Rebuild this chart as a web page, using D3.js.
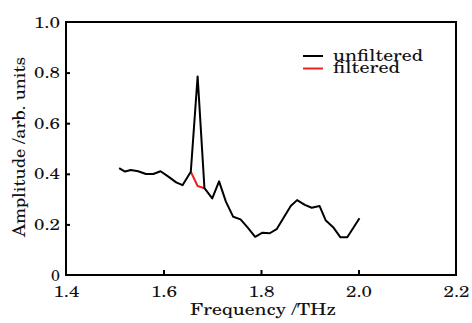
<!DOCTYPE html>
<html><head><meta charset="utf-8">
<script src="https://cdn.jsdelivr.net/npm/d3@7"></script>
<style>
html,body{margin:0;padding:0;background:#fff;}
svg text{font-family:"TeX Gyre Schola","Liberation Serif",serif;fill:#111;}
</style></head>
<body><svg id="c" width="472" height="323"></svg>
<script>
const freq = [1.509,1.521,1.533,1.548,1.564,1.579,1.594,1.610,1.626,1.639,1.656,1.670,1.684,1.700,1.714,1.728,1.743,1.758,1.772,1.788,1.803,1.818,1.832,1.847,1.861,1.874,1.890,1.904,1.920,1.933,1.948,1.963,1.977,2.002];
const unfiltered = [0.422,0.409,0.415,0.410,0.399,0.399,0.410,0.389,0.366,0.355,0.408,0.785,0.343,0.303,0.370,0.290,0.230,0.220,0.189,0.151,0.167,0.165,0.181,0.228,0.273,0.296,0.277,0.266,0.273,0.215,0.189,0.149,0.149,0.224];
const filteredFreq = [1.656,1.670,1.684];
const filtered = [0.408,0.352,0.343];
const xTicks = [1.4,1.6,1.8,2.0,2.2];
const yTicks = [0,0.2,0.4,0.6,0.8,1.0];
const seriesNames = ["unfiltered","filtered"];
const seriesColors = ["#000000","#ee2020"];
const legendWidths = [90,67];

const FS = 16;
const svg = d3.select("#c");
const L=66, R=456, T=22, B=275;
const x = d3.scaleLinear().domain([1.4,2.2]).range([L,R]);
const y = d3.scaleLinear().domain([0,1]).range([B,T]);

// frame
svg.append("rect").attr("x",L).attr("y",T).attr("width",R-L).attr("height",B-T)
  .attr("fill","none").attr("stroke","#000").attr("stroke-width",2);

// x axis
const xa = svg.append("g").attr("transform",`translate(0,${B})`)
  .call(d3.axisBottom(x).tickValues(xTicks).tickSize(-5).tickPadding(11).tickFormat(d3.format(".1f")));
xa.attr("font-family",null).attr("font-size",null);
xa.select(".domain").remove();
xa.selectAll(".tick line").attr("stroke","#000").attr("stroke-width",2)
  .filter(d=>d===1.4||d===2.2).remove();
xa.selectAll(".tick text").attr("font-size",FS).attr("fill","#111")
  .attr("textLength",26).attr("lengthAdjust","spacingAndGlyphs");

// y axis
const ya = svg.append("g").attr("transform",`translate(${L},0)`)
  .call(d3.axisLeft(y).tickValues(yTicks).tickSize(-4).tickPadding(6).tickFormat(d=>d===0?"0":d3.format(".1f")(d)));
ya.attr("font-family",null).attr("font-size",null);
ya.select(".domain").remove();
ya.selectAll(".tick line").attr("stroke","#000").attr("stroke-width",2)
  .filter(d=>d===0||d===1).remove();
ya.selectAll(".tick text").attr("font-size",FS).attr("fill","#111").attr("x",-6)
  .filter(d=>d!==0).attr("textLength",26).attr("lengthAdjust","spacingAndGlyphs");

// lines
const line = d3.line().x(d=>x(d[0])).y(d=>y(d[1]));
svg.append("path").datum(filteredFreq.map((f,i)=>[f,filtered[i]]))
  .attr("d",line).attr("fill","none").attr("stroke",seriesColors[1]).attr("stroke-width",2).attr("stroke-linejoin","round");
svg.append("path").datum(freq.map((f,i)=>[f,unfiltered[i]]))
  .attr("d",line).attr("fill","none").attr("stroke",seriesColors[0]).attr("stroke-width",2).attr("stroke-linejoin","round");

// legend
seriesNames.forEach((n,i)=>{
  const yy = 56 + i*12.5;
  svg.append("line").attr("x1",303).attr("x2",323).attr("y1",yy).attr("y2",yy)
    .attr("stroke",seriesColors[i]).attr("stroke-width",2);
  svg.append("text").attr("x",333).attr("y",yy+4.5)
    .attr("textLength",legendWidths[i]).attr("lengthAdjust","spacingAndGlyphs")
    .attr("font-size",FS).text(n);
});

// axis titles
svg.append("text").attr("x",263).attr("y",315).attr("text-anchor","middle")
  .attr("textLength",146).attr("lengthAdjust","spacingAndGlyphs")
  .attr("font-size",FS).text("Frequency /THz");
svg.append("text").attr("transform",`translate(25,147) rotate(-90)`).attr("text-anchor","middle")
  .attr("textLength",180).attr("lengthAdjust","spacingAndGlyphs")
  .attr("font-size",17).text("Amplitude /arb. units");
</script></body></html>
